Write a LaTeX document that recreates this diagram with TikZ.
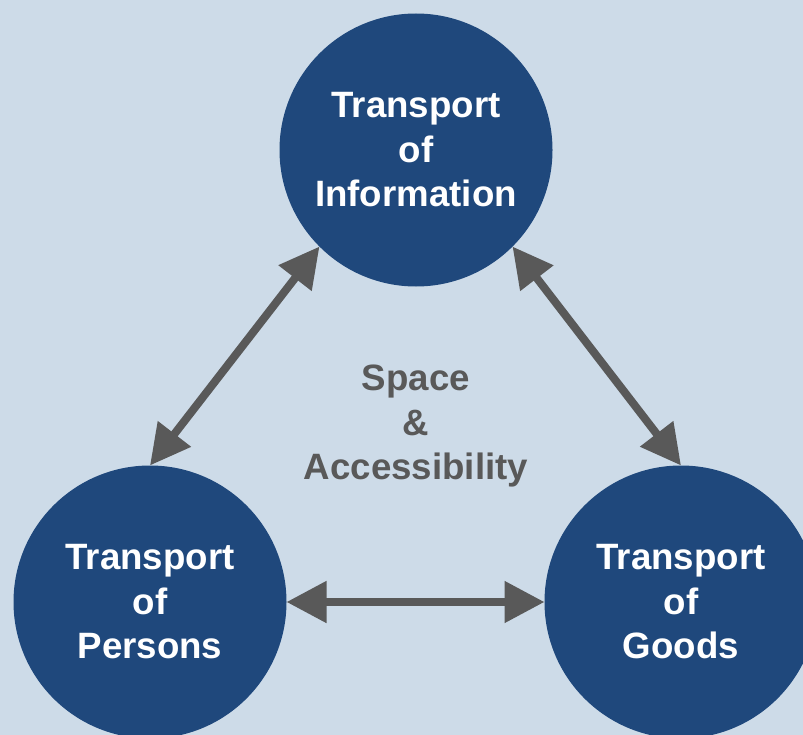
\documentclass[tikz,border=0pt]{standalone}
\usepackage{fontspec}
\setmainfont{Liberation Sans}
\usetikzlibrary{arrows.meta}
\definecolor{bgblue}{HTML}{CDDBE8}
\definecolor{circblue}{HTML}{1F487C}
\definecolor{arrgray}{HTML}{595959}
\begin{document}
\begin{tikzpicture}[x=0.75pt,y=-0.75pt,
  transport/.style={circle,fill=circblue,minimum size=204.75pt,inner sep=0pt,outer sep=0pt,
    text=white,align=center,font=\fontsize{27.5}{33.4}\selectfont\bfseries},
  link/.style={draw=arrgray,line width=6pt,
    {Triangle[length=30pt,width=30pt]}-{Triangle[length=30pt,width=30pt]}}]
\clip (0,0) rectangle (803,735);
\fill[bgblue] (0,0) rectangle (803,735);

\node[transport] (info) at (416,150) {Transport\\of\\Information};
\node[transport] (pers) at (150,602) {Transport\\of\\Persons};
\node[transport] (goods) at (681,602) {Transport\\of\\Goods};
\node[text=arrgray,align=center,font=\fontsize{27.5}{33.4}\selectfont\bfseries] (space) at (416,426) {Space\\\&\\Accessibility};

\draw[link] (info.225) -- (pers.90);
\draw[link] (info.315) -- (goods.90);
\draw[link] (pers) -- (goods);
\end{tikzpicture}
\end{document}
